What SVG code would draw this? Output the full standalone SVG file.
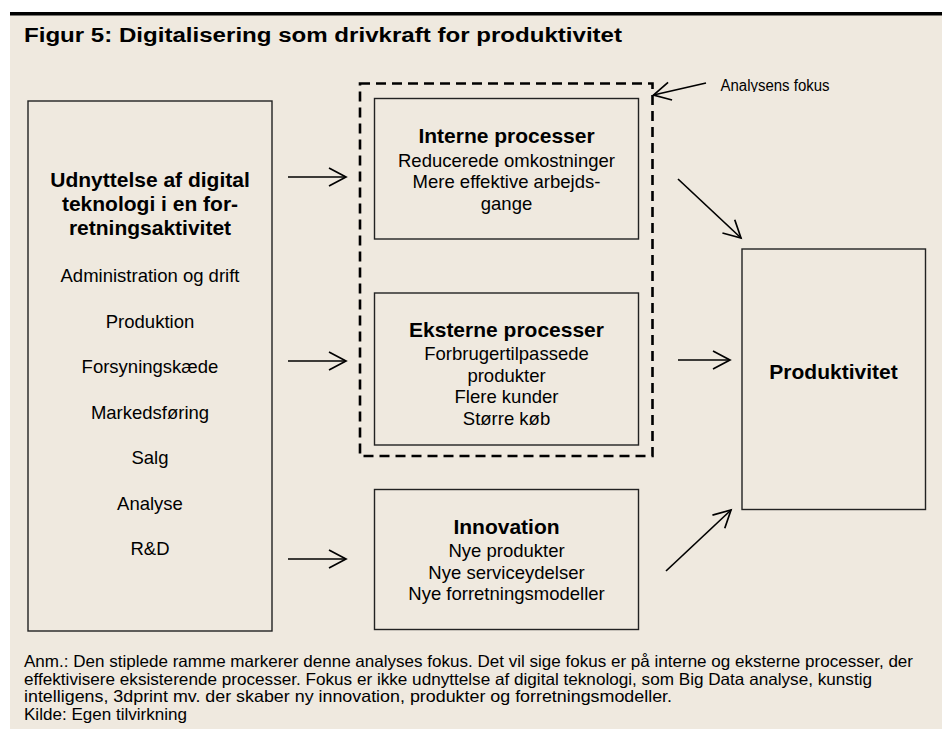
<svg xmlns="http://www.w3.org/2000/svg" width="942" height="731" viewBox="0 0 942 731">
<defs>
<style>
.t{font-family:"Liberation Sans",Arial,sans-serif;fill:#000}
.b{font-weight:bold;font-size:21px;text-anchor:middle}
.r{font-size:18.5px;text-anchor:middle}
.box{fill:none;stroke:#222;stroke-width:1.4}
.con{fill:none;stroke:#000;stroke-width:1.7}
.fn{font-size:16.5px}
</style>
<marker id="ah" viewBox="-20 -12 24 24" markerWidth="24" markerHeight="24" refX="0" refY="0" orient="auto" markerUnits="userSpaceOnUse">
<path d="M-17,-9 L0,0 L-17,9" fill="none" stroke="#000" stroke-width="1.7"/>
</marker>
<clipPath id="clipA"><rect x="700" y="70" width="160" height="22"/></clipPath>
</defs>
<rect x="0" y="0" width="942" height="731" fill="#fff"/>
<rect x="10" y="15" width="932" height="714" fill="#EFE9DF"/>
<rect x="10" y="12" width="932" height="3.5" fill="#000"/>
<text class="t" x="24" y="42" font-size="20" font-weight="bold" textLength="598" lengthAdjust="spacingAndGlyphs">Figur 5: Digitalisering som drivkraft for produktivitet</text>

<g id="left">
<rect class="box" x="28" y="101" width="244" height="530"/>
<text class="t b" x="150" y="187">Udnyttelse af digital</text>
<text class="t b" x="150" y="211">teknologi i en for-</text>
<text class="t b" x="150" y="235">retningsaktivitet</text>
<text class="t r" x="150" y="282">Administration og drift</text>
<text class="t r" x="150" y="328">Produktion</text>
<text class="t r" x="150" y="373">Forsyningskæde</text>
<text class="t r" x="150" y="419">Markedsføring</text>
<text class="t r" x="150" y="464">Salg</text>
<text class="t r" x="150" y="510">Analyse</text>
<text class="t r" x="150" y="555">R&amp;D</text>
</g>

<g id="focus">
<rect x="360" y="83.5" width="292.5" height="372.5" fill="none" stroke="#000" stroke-width="2.6" stroke-dasharray="10 6"/>
</g>

<g id="interne">
<rect class="box" x="374.5" y="98.5" width="264" height="140.5"/>
<text class="t b" x="506.5" y="143">Interne processer</text>
<text class="t r" x="506.5" y="166.5">Reducerede omkostninger</text>
<text class="t r" x="506.5" y="188">Mere effektive arbejds-</text>
<text class="t r" x="506.5" y="209.5">gange</text>
</g>

<g id="eksterne">
<rect class="box" x="374.5" y="293" width="264" height="152"/>
<text class="t b" x="506.5" y="337">Eksterne processer</text>
<text class="t r" x="506.5" y="360">Forbrugertilpassede</text>
<text class="t r" x="506.5" y="381.5">produkter</text>
<text class="t r" x="506.5" y="403">Flere kunder</text>
<text class="t r" x="506.5" y="424.5">Større køb</text>
</g>

<g id="innovation">
<rect class="box" x="374.5" y="489.5" width="264" height="140"/>
<text class="t b" x="506.5" y="534">Innovation</text>
<text class="t r" x="506.5" y="557">Nye produkter</text>
<text class="t r" x="506.5" y="578.5">Nye serviceydelser</text>
<text class="t r" x="506.5" y="600">Nye forretningsmodeller</text>
</g>

<g id="produktivitet">
<rect class="box" x="742" y="249" width="183.5" height="260.5"/>
<text class="t b" x="833.5" y="379">Produktivitet</text>
</g>

<g id="label">
<text class="t" x="720.5" y="91" font-size="16" textLength="109" lengthAdjust="spacingAndGlyphs" clip-path="url(#clipA)">Analysens fokus</text>
</g>

<g id="connectors">
<line class="con" x1="288" y1="177" x2="346" y2="177" marker-end="url(#ah)"/>
<line class="con" x1="288" y1="361" x2="346" y2="361" marker-end="url(#ah)"/>
<line class="con" x1="288" y1="559" x2="346" y2="559" marker-end="url(#ah)"/>
<line class="con" x1="678" y1="179" x2="741" y2="238" marker-end="url(#ah)"/>
<line class="con" x1="678" y1="360" x2="730" y2="360" marker-end="url(#ah)"/>
<line class="con" x1="666" y1="571" x2="731" y2="510" marker-end="url(#ah)"/>
<line class="con" x1="706" y1="83" x2="653.5" y2="95" marker-end="url(#ah)"/>
</g>

<g id="note">
<text class="t fn" x="24" y="667" textLength="889" lengthAdjust="spacingAndGlyphs">Anm.: Den stiplede ramme markerer denne analyses fokus. Det vil sige fokus er på interne og eksterne processer, der</text>
<text class="t fn" x="24" y="684.5" textLength="848" lengthAdjust="spacingAndGlyphs">effektivisere eksisterende processer. Fokus er ikke udnyttelse af digital teknologi, som Big Data analyse, kunstig</text>
<text class="t fn" x="24" y="702" textLength="648" lengthAdjust="spacingAndGlyphs">intelligens, 3dprint mv. der skaber ny innovation, produkter og forretningsmodeller.</text>
<text class="t fn" x="24" y="719.5" textLength="163" lengthAdjust="spacingAndGlyphs">Kilde: Egen tilvirkning</text>
</g>
</svg>
